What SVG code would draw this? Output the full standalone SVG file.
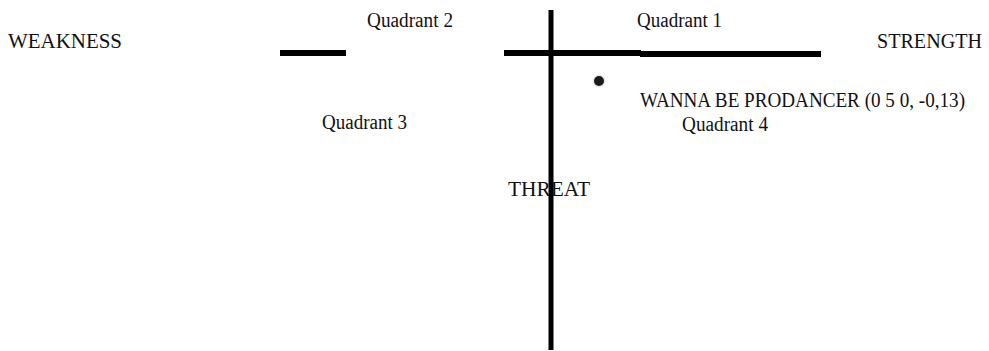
<svg xmlns="http://www.w3.org/2000/svg" width="989" height="351" viewBox="0 0 989 351">
<style>
  text { font-family: 'Liberation Serif', 'Times New Roman', 'DejaVu Serif', serif; fill: #111; }
  .lbl { font-size: 20px; }
  .big { font-size: 21px; }
  .axis { fill: #000; }
</style>
<rect width="989" height="351" fill="#fff"/>
<g id="connectors">
  <rect class="axis" x="280" y="50" width="66" height="6"/>
  <rect class="axis" x="504" y="50" width="137" height="6"/>
  <rect class="axis" x="640" y="51" width="181" height="6"/>
  <rect class="axis" x="548.5" y="10" width="5" height="340"/>
</g>
<g id="point">
  <circle cx="599" cy="81" r="6.5" fill="#e8e8e8"/>
  <circle cx="599" cy="81" r="5" fill="#1a1a1a"/>
</g>
<g id="quadrant2"><text class="lbl" x="367" y="27" textLength="86" lengthAdjust="spacingAndGlyphs">Quadrant 2</text></g>
<g id="quadrant1"><text class="lbl" x="637" y="27" textLength="85" lengthAdjust="spacingAndGlyphs">Quadrant 1</text></g>
<g id="weakness"><text class="big" x="8" y="48" textLength="114" lengthAdjust="spacingAndGlyphs">WEAKNESS</text></g>
<g id="strength"><text class="big" x="877" y="48" textLength="105" lengthAdjust="spacingAndGlyphs">STRENGTH</text></g>
<g id="wannabe"><text x="640" y="107" font-size="20" textLength="325" lengthAdjust="spacingAndGlyphs">WANNA BE PRODANCER (0 5 0, -0,13)</text></g>
<g id="quadrant3"><text class="lbl" x="322" y="129" textLength="85" lengthAdjust="spacingAndGlyphs">Quadrant 3</text></g>
<g id="quadrant4"><text class="lbl" x="682" y="131" textLength="86" lengthAdjust="spacingAndGlyphs">Quadrant 4</text></g>
<g id="threat"><text class="big" x="508" y="196" textLength="82" lengthAdjust="spacingAndGlyphs">THREAT</text></g>
</svg>
